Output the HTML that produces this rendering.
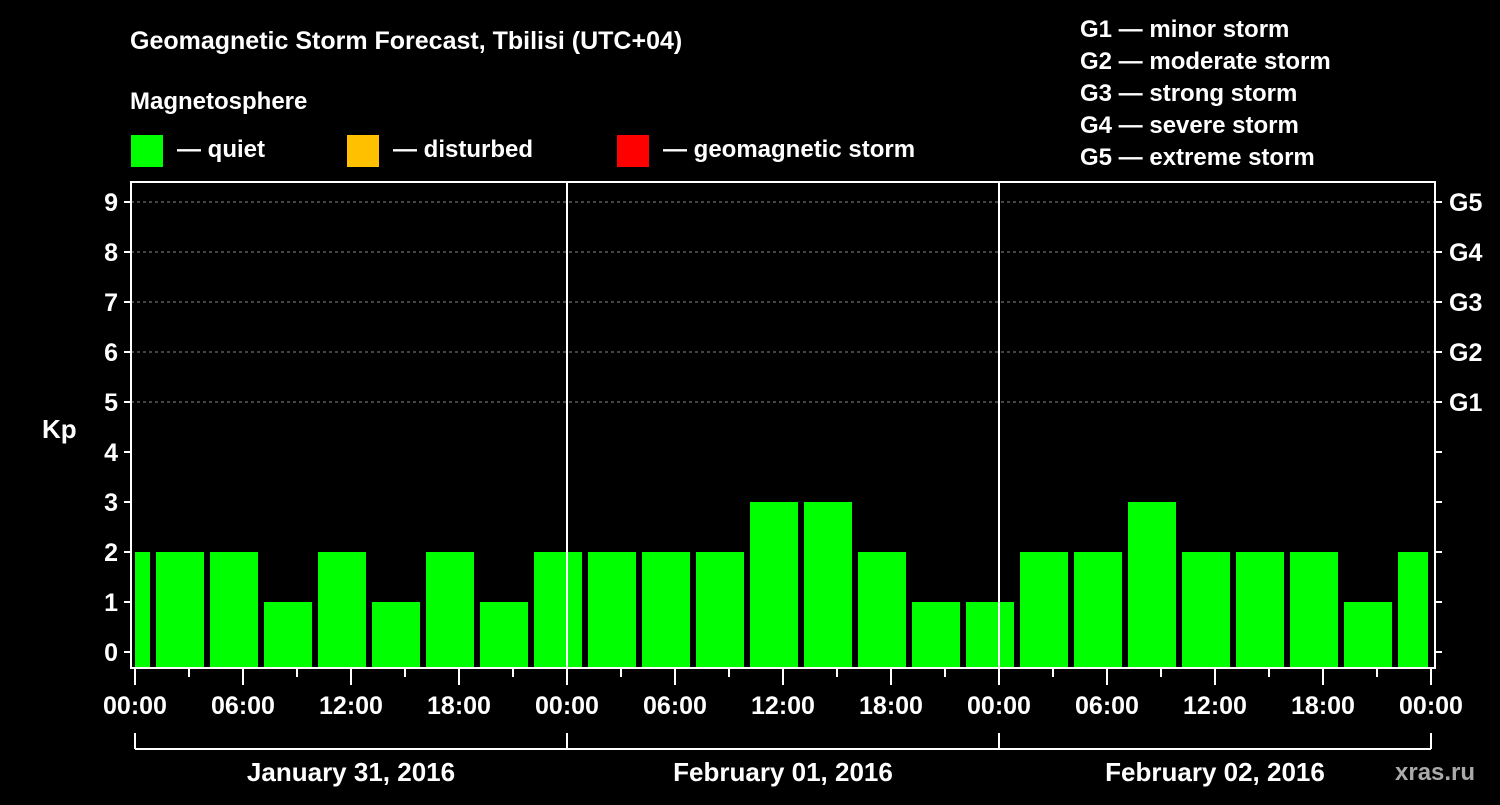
<!DOCTYPE html>
<html><head><meta charset="utf-8"><style>
body{margin:0;background:#000;}
svg text{font-family:"Liberation Sans",Arial,sans-serif;font-weight:bold;fill:#fff;}
</style></head><body>
<svg width="1500" height="800" xmlns="http://www.w3.org/2000/svg">
<rect width="1500" height="800" fill="#000"/>
<text x="130" y="49" font-size="25">Geomagnetic Storm Forecast, Tbilisi (UTC+04)</text>
<text x="130" y="109" font-size="24">Magnetosphere</text>
<g>
<rect x="131" y="135" width="32" height="32" fill="#00ff00"/>
<text x="177" y="157" font-size="24">— quiet</text>
<rect x="347" y="135" width="32" height="32" fill="#ffc000"/>
<text x="393" y="157" font-size="24">— disturbed</text>
<rect x="617" y="135" width="32" height="32" fill="#ff0000"/>
<text x="663" y="157" font-size="24">— geomagnetic storm</text>
</g>
<g font-size="24">
<text x="1080" y="37">G1 — minor storm</text>
<text x="1080" y="69">G2 — moderate storm</text>
<text x="1080" y="101">G3 — strong storm</text>
<text x="1080" y="133">G4 — severe storm</text>
<text x="1080" y="165">G5 — extreme storm</text>
</g>
<text x="42" y="438" font-size="26">Kp</text>
<text x="1395" y="780" font-size="24" fill="#bbb" style="fill:#aaa">xras.ru</text>
<g id="plot"></g>
</svg>
<script>
const kpValues=[2,2,2,1,2,1,2,1,2,2,2,2,3,3,2,1,1,2,2,3,2,2,2,1,2];
const xTickLabels=["00:00","06:00","12:00","18:00","00:00","06:00","12:00","18:00","00:00","06:00","12:00","18:00","00:00"];
const dayLabels=["January 31, 2016","February 01, 2016","February 02, 2016"];
const gLabels=["G1","G2","G3","G4","G5"];
const NS="http://www.w3.org/2000/svg";
const g=document.getElementById('plot');
const X0=135,HPX=18,L=131,R=1435,T=182,B=668;
const x=h=>X0+h*HPX;
const y=v=>652-v*50;
function mk(t,a){const e=document.createElementNS(NS,t);for(const k in a)e.setAttribute(k,a[k]);g.appendChild(e);return e;}
for(let v=5;v<=9;v++){const e=mk('line',{x1:L,x2:R,y1:y(v),y2:y(v),stroke:'#888','stroke-dasharray':'3,3','stroke-width':1});

}
kpValues.forEach((v,i)=>{let s=x(-2+i*3)+3,e2=x(1+i*3)-3;s=Math.max(s,x(0));e2=Math.min(e2,x(72)-3);
const c=v>=5?'#ff0000':(v>=4?'#ffc000':'#00ff00');
const r=mk('rect',{x:s,y:y(v),width:e2-s,height:B-y(v),fill:c});

});
const fr=mk('rect',{x:L,y:T,width:R-L,height:B-T,fill:'none',stroke:'#fff','stroke-width':2});


[24,48].forEach(h=>{const e=mk('line',{x1:x(h),x2:x(h),y1:T,y2:B,stroke:'#fff','stroke-width':2});

});
for(let v=0;v<=9;v++){
mk('line',{x1:L-7,x2:L,y1:y(v),y2:y(v),stroke:'#fff','stroke-width':2});
mk('line',{x1:R,x2:R+7,y1:y(v),y2:y(v),stroke:'#fff','stroke-width':2});
const t=mk('text',{x:L-13,y:y(v)+9,'font-size':25,'text-anchor':'end'});t.textContent=v;


if(v>=5){const gt=mk('text',{x:1449,y:y(v)+9,'font-size':25});gt.textContent=gLabels[v-5];

}}
for(let h=0;h<=72;h+=3){mk('line',{x1:x(h),x2:x(h),y1:B,y2:B+(h%6?9:17),stroke:'#fff','stroke-width':2});}
xTickLabels.forEach((s,i)=>{const t=mk('text',{x:x(i*6),y:714,'font-size':25,'text-anchor':'middle'});t.textContent=s;

});
mk('line',{x1:x(0),x2:x(72),y1:749,y2:749,stroke:'#fff','stroke-width':2});
for(let d=0;d<=3;d++)mk('line',{x1:x(d*24),x2:x(d*24),y1:733,y2:749,stroke:'#fff','stroke-width':2});
dayLabels.forEach((s,i)=>{const t=mk('text',{x:x(i*24+12),y:781,'font-size':26,'text-anchor':'middle'});t.textContent=s;

});
</script>
</body></html>
